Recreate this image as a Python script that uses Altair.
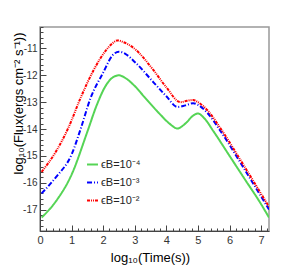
import altair as alt
import pandas as pd

# curves (log10 time, log10 flux)
x_g = [0.05, 0.5, 1.0, 1.5, 1.8, 2.1, 2.3, 2.5, 2.7, 3.0, 3.3, 3.8, 4.1, 4.35, 4.6, 4.85, 5.0, 5.2, 5.5, 6.0, 6.5, 7.0, 7.25]
y_g = [-17.3, -16.7, -15.7, -14.1, -13.1, -12.35, -12.08, -12.0, -12.1, -12.4, -12.8, -13.45, -13.8, -13.98, -13.8, -13.5, -13.42, -13.6, -14.1, -15.0, -15.9, -16.8, -17.3]

x_b = [0.05, 0.5, 1.0, 1.3, 1.6, 2.0, 2.3, 2.5, 2.7, 3.0, 3.6, 4.0, 4.35, 4.6, 4.85, 5.0, 5.3, 5.7, 6.5, 7.25]
y_b = [-16.4, -15.8, -14.95, -13.95, -12.85, -11.9, -11.25, -11.12, -11.2, -11.5, -12.27, -12.78, -13.18, -13.12, -13.04, -13.1, -13.4, -14.05, -15.55, -17.0]

x_r = [0.05, 0.5, 0.9, 1.3, 1.7, 2.1, 2.3, 2.45, 2.65, 2.95, 3.6, 4.0, 4.45, 4.65, 4.85, 5.0, 5.3, 5.7, 6.5, 7.25]
y_r = [-15.6, -14.85, -13.95, -12.8, -11.8, -11.05, -10.8, -10.7, -10.77, -10.97, -11.82, -12.45, -13.0, -12.95, -12.92, -13.0, -13.3, -13.95, -15.45, -16.9]

labels = ["ϵB=10⁻⁴", "ϵB=10⁻³", "ϵB=10⁻²"]
colors = ["#55d455", "#0000ff", "#ff0000"]
dashes = [[1, 0], [5, 2, 1, 2], [3, 1, 1, 1, 1, 1]]

x_ticks = [round(i * 0.2, 1) for i in range(0, 37)]
y_ticks = [round(-17.8 + i * 0.2, 1) for i in range(0, 39)]

rows = []
for lab, xs, ys in zip(labels, [x_g, x_b, x_r], [y_g, y_b, y_r]):
    for a, b in zip(xs, ys):
        rows.append({"t": a, "f": b, "s": lab})
df = pd.DataFrame(rows)

font = "Liberation Sans"
major = "abs(datum.value - round(datum.value)) < 0.01"
lab_expr = f"{major} ? ('' + round(datum.value)) : ''"

chart = alt.Chart(df).mark_line(strokeWidth=2, interpolate="monotone", clip=True).encode(
    x=alt.X("t:Q", scale=alt.Scale(domain=[0, 7.25], nice=False, zero=False),
            axis=alt.Axis(values=x_ticks, labelExpr=lab_expr,
                          tickSize=alt.ExprRef(expr=f"{major} ? -6 : -3"),
                          title="log₁₀(Time(s))", titleX=110, titleY=26, titleBaseline="middle",
                          titleFontSize=13, titleFontWeight="normal", titleFont=font,
                          labelFont=font, labelFontSize=11, labelPadding=9, labelColor="#333",
                          grid=False, domainColor="#444", tickColor="#444", labelFlush=False,
                          labelOverlap=False)),
    y=alt.Y("f:Q", scale=alt.Scale(domain=[-17.8, -10.2], nice=False, zero=False),
            axis=alt.Axis(values=y_ticks, labelExpr=lab_expr,
                          tickSize=alt.ExprRef(expr=f"{major} ? -6 : -3"),
                          title="log₁₀(Flux(ergs cm⁻² s⁻¹))", titleX=-22, titleY=76,
                          titleAngle=270, titleBaseline="middle", titleAlign="center",
                          titleFontSize=13, titleFontWeight="normal", titleFont=font,
                          labelFont=font, labelFontSize=10, labelPadding=9, labelColor="#333",
                          grid=False, domainColor="#444", tickColor="#444", labelOverlap=False)),
    color=alt.Color("s:N", scale=alt.Scale(domain=labels, range=colors),
                    legend=alt.Legend(title=None, orient="none", legendX=46, legendY=131,
                                      symbolType="stroke", symbolSize=120, symbolStrokeWidth=2,
                                      labelFont=font, labelFontSize=11, labelOffset=2,
                                      rowPadding=6, labelColor="#222")),
    strokeDash=alt.StrokeDash("s:N", scale=alt.Scale(domain=labels, range=dashes), legend=None),
).properties(
    width=229, height=204,
    padding={"left": 32, "top": 19, "right": 23, "bottom": 34},
    autosize=alt.AutoSizeParams(type="none"),
).configure_view(stroke="#999", strokeWidth=1.5)

chart.save("out.html", embed_options={"renderer": "svg", "actions": False})
